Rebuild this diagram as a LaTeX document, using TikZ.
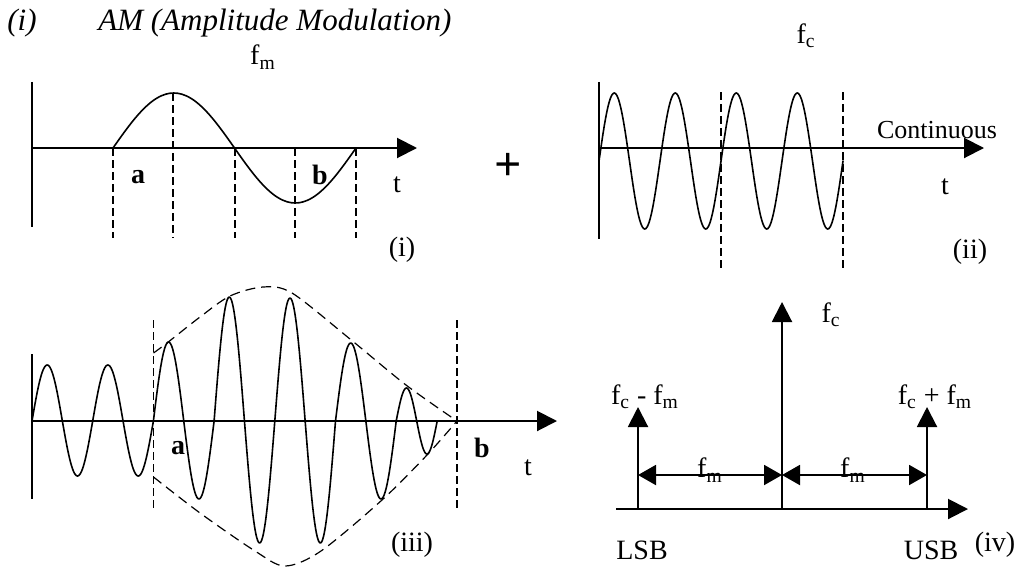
\documentclass[tikz,border=0pt]{standalone}
\usepackage{fontspec}
\setmainfont{Liberation Serif}
\usetikzlibrary{arrows.meta}

\begin{document}
\begin{tikzpicture}[
    x=0.5pt, y=-0.5pt,
    font=\fontsize{14}{16}\selectfont,
    tip/.style={-{Triangle[length=10pt, width=10pt]}},
    axis/.style={line width=1pt},
    axisarr/.style={axis, tip},
    wave/.style={line width=0.8pt, line join=round, line cap=round},
    guide/.style={line width=0.6pt, dash pattern=on 4pt off 2pt},
    envelope/.style={line width=0.6pt, dash pattern=on 5pt off 3pt},
    lbl/.style={inner sep=0pt},
    bl/.style={lbl, font=\fontsize{14}{16}\selectfont\bfseries},
    it/.style={lbl, font=\fontsize{15.5}{18}\selectfont\itshape},
    dim/.style={line width=1pt, {Triangle[length=9pt, width=10pt]}-{Triangle[length=9pt, width=10pt]}},
]
\useasboundingbox (0,0) rectangle (1020,567);

% ---- Title ----
\node[it] (num) at (22,23) {(i)};
\node[it, anchor=west] (title) at (98,23) {AM (Amplitude Modulation)};

% ---- (i) Modulating signal ----
\coordinate (o1) at (32,148);
\coordinate (y1t) at (32,82);
\coordinate (y1b) at (32,227);
\coordinate (x1e) at (417,148);
\draw[axis] (y1t) -- (y1b);
\draw[axisarr] (o1) -- (x1e);
\draw[wave] plot[domain=0:360, samples=61, smooth] ({113+\x/360*243},{148-55*sin(\x)});
\foreach \gx/\gy in {113/148, 173/93, 235/148, 295/148, 356/148}
  \draw[guide] (\gx,\gy) -- (\gx,238);

\node[lbl] (fm) at (263,57) {f\textsubscript{m}};
\node[bl] (a1) at (138,177) {a};
\node[bl] (b1) at (320,175) {b};
\node[lbl] (t1) at (397,185) {t};
\node[lbl] (cap1) at (402,250) {(i)};

% plus
\node[lbl, font=\fontsize{24}{26}\selectfont\bfseries] (plus) at (508,167) {+};

% ---- (ii) Carrier ----
\coordinate (o2) at (599,148);
\coordinate (y2t) at (599,82);
\coordinate (y2b) at (599,239);
\coordinate (x2e) at (984,148);
\draw[axis] (y2t) -- (y2b);
\draw[axisarr] (o2) -- (x2e);
\draw[wave] plot[domain=0:1440, samples=241, smooth] ({599+\x/1440*244},{161-68*sin(\x)});
\foreach \gx in {721, 843}
  \draw[guide] (\gx,92) -- (\gx,270);

\node[lbl] (fc) at (806,36) {f\textsubscript{c}};
\node[lbl, font=\fontsize{13}{15}\selectfont] (cont) at (937,130) {Continuous};
\node[lbl] (t2) at (945,187) {t};
\node[lbl] (cap2) at (970,252) {(ii)};

% ---- (iii) Modulated wave ----
\coordinate (o3) at (32,421);
\coordinate (y3t) at (32,354);
\coordinate (y3b) at (32,499);
\coordinate (x3e) at (557,421);
\draw[axis] (y3t) -- (y3b);
\draw[axisarr] (o3) -- (x3e);
\foreach \xs/\hw/\ha in {32/30.35/56, 62.35/30.35/-55, 92.7/30.35/56, 123.05/30.35/-55,
    153.4/30.35/79, 183.75/30.35/-78, 214.1/30.35/124, 244.45/30.35/-122,
    274.8/30.35/123, 305.15/30.35/-122, 335.5/30.35/78, 365.85/30.35/-78,
    396.2/20.5/33, 416.7/20.5/-33}
  \draw[wave] plot[domain=0:180, samples=31, smooth] ({\xs+\x/180*\hw},{421-(\ha)*sin(\x)});
\foreach \gx in {153.5, 457}
  \draw[guide] (\gx,320) -- (\gx,510);

% envelope
\draw[envelope] plot[smooth] coordinates {(153.5,353) (167,343) (200,317) (230,296) (263,287)
    (292,293) (350,339) (406,385) (457,421)};
\draw[envelope] plot[smooth] coordinates {(153.5,477) (200,513) (255,551) (285,566)
    (321,551) (382,500) (427,455) (457,421)};

\node[bl] (a3) at (178,448) {a};
\node[bl] (b3) at (482,448) {b};
\node[lbl] (t3) at (528,468) {t};
\node[lbl] (cap3) at (412,545) {(iii)};

% ---- (iv) Spectrum ----
\coordinate (sb0) at (616,509);
\coordinate (sbE) at (968,509);
\coordinate (lB) at (638,509);
\coordinate (lT) at (638,407);
\coordinate (cB) at (782,509);
\coordinate (cT) at (782,302);
\coordinate (uB) at (927,509);
\coordinate (uT) at (927,407);
\coordinate (lD) at (638,475);
\coordinate (cD) at (782,475);
\coordinate (uD) at (927,475);
\draw[axisarr] (sb0) -- (sbE);
\draw[axisarr] (lB) -- (lT);
\draw[axisarr] (cB) -- (cT);
\draw[axisarr] (uB) -- (uT);
\draw[dim] (lD) -- (cD);
\draw[dim] (cD) -- (uD);

\node[lbl] (fc4) at (831,315) {f\textsubscript{c}};
\node[lbl] (lsbf) at (645,397) {f\textsubscript{c} - f\textsubscript{m}};
\node[lbl] (usbf) at (935,397) {f\textsubscript{c} + f\textsubscript{m}};
\node[lbl] (fmL) at (710,470) {f\textsubscript{m}};
\node[lbl] (fmR) at (853,470) {f\textsubscript{m}};
\node[lbl] (lsb) at (642,550) {LSB};
\node[lbl] (usb) at (931,550) {USB};
\node[lbl] (cap4) at (995,545) {(iv)};

\end{tikzpicture}
\end{document}
